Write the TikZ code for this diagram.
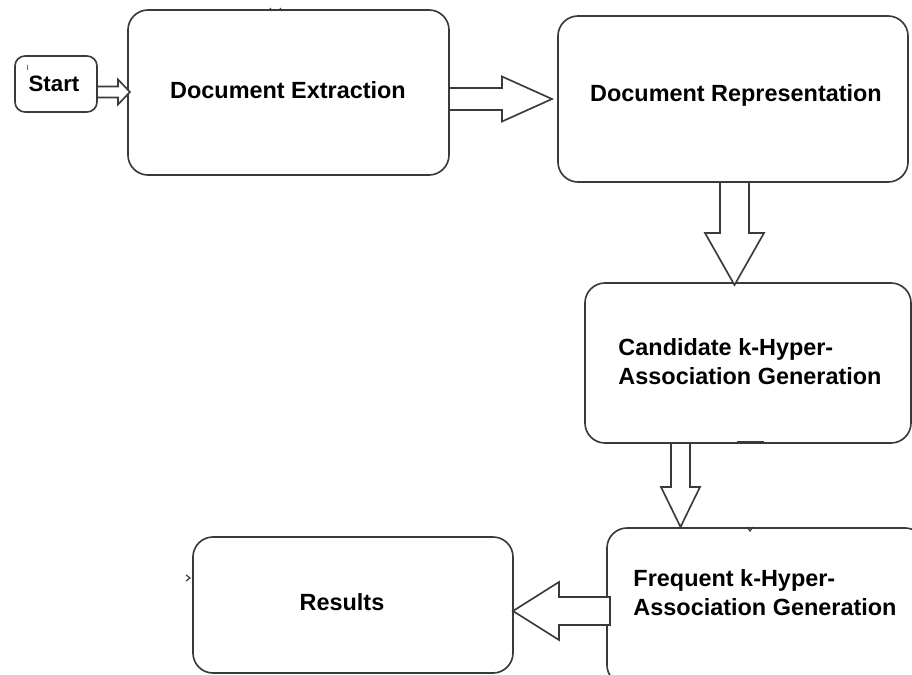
\documentclass[tikz,border=0pt]{standalone}
\usepackage{fontspec}
\setmainfont{Liberation Sans}
\usetikzlibrary{calc}
\definecolor{edge}{HTML}{3A3A3A}
\tikzset{
  stage/.style={draw=edge, line width=1.4pt, rounded corners=0.6cm, fill=white, inner sep=0pt},
  caption/.style={font=\fontsize{20}{24.7}\selectfont\bfseries, align=left, inner sep=0pt, text=black},
  fatarrow/.style={draw=edge, line width=1.4pt, fill=white, line join=miter},
  blip/.style={draw=edge, line width=1pt},
}
% block arrow: tail, tip, shaft half width, head half width, head length
\newcommand{\blockarrow}[5]{%
  \coordinate (hb) at ($(#2)!#5!(#1)$);
  \draw[fatarrow] ($(#1)!#3!90:(#2)$) -- ($(hb)!#3!90:(#2)$) -- ($(hb)!#4!90:(#2)$) -- (#2)
    -- ($(hb)!#4!-90:(#2)$) -- ($(hb)!#3!-90:(#2)$) -- ($(#1)!#3!-90:(#2)$) -- cycle;}
\begin{document}
\begin{tikzpicture}[x=0.03cm, y=-0.03cm]
  \useasboundingbox (0,0) rectangle (912,675);
  \clip (0,0) rectangle (912,675);
  \fill[white] (0,0) rectangle (912,675);

  % process stages
  \node[stage, rounded corners=0.3cm, minimum width=2.46cm, minimum height=1.68cm] (start) at (56,84) {};
  \node[caption, font=\fontsize{19}{23}\selectfont\bfseries] (starttext) at (54,84) {Start};

  \node[stage, minimum width=9.63cm, minimum height=4.95cm] (ext) at (288.5,92.5) {};
  \node[caption] (exttext) at (288,90) {Document Extraction};

  \node[stage, minimum width=10.5cm, minimum height=4.98cm] (rep) at (733,99) {};
  \node[caption] (reptext) at (736,95) {Document Representation};

  \node[stage, minimum width=9.78cm, minimum height=4.8cm] (cand) at (748,363) {};
  \node[caption] (candtext) at (750,362) {Candidate k-Hyper-\\Association Generation};

  \node[stage, minimum width=9.54cm, minimum height=4.71cm] (freq) at (766,606.5) {};
  \node[caption] (freqtext) at (765,593) {Frequent k-Hyper-\\Association Generation};

  \node[stage, minimum width=9.6cm, minimum height=4.08cm] (res) at (353,605) {};
  \node[caption] (restext) at (342,602) {Results};

  % connector end points
  \coordinate (a1) at (97,92);    \coordinate (b1) at (130,92);
  \coordinate (a2) at (449,99);   \coordinate (b2) at (552,99);
  \coordinate (a3) at (734.5,182);\coordinate (b3) at (734.5,285);
  \coordinate (a4) at (680.5,443);\coordinate (b4) at (680.5,527);
  \coordinate (a5) at (610,611);  \coordinate (b5) at (513,611);

  % block arrows
  \blockarrow{a1}{b1}{0.165cm}{0.375cm}{0.36cm}
  \blockarrow{a2}{b2}{0.33cm}{0.675cm}{1.5cm}
  \blockarrow{a3}{b3}{0.435cm}{0.885cm}{1.56cm}
  \blockarrow{a4}{b4}{0.285cm}{0.585cm}{1.2cm}
  \blockarrow{a5}{b5}{0.42cm}{0.87cm}{1.38cm}

  % small marks on the borders
  \draw[edge, line width=2.2pt] (737,442) -- (764,442);
  \draw[blip] (747,527) -- (750,531) -- (753,527);
  \draw[blip] (186,575) -- (190,578) -- (186,581);
  \draw[blip] (270,8) -- (272,11) (280,8) -- (282,11);
  \draw[orange!70!black, line width=0.8pt] (27,65) -- (27,70);
\end{tikzpicture}
\end{document}
